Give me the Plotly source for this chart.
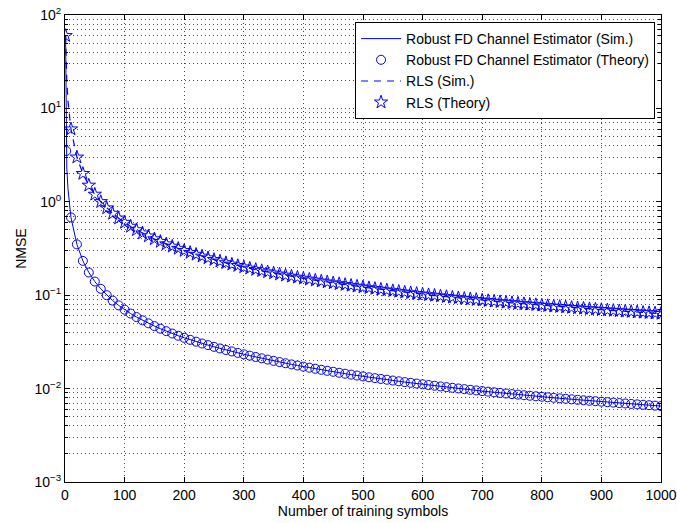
import plotly.graph_objects as go

# ---------------- data ----------------
theory_n = [10 * k for k in range(1, 101)]

robust_theory = [
    0.68, 0.35, 0.233, 0.175, 0.14, 0.117, 0.100, 0.0875, 0.0778, 0.070,
    0.0636, 0.0583, 0.0538, 0.050, 0.0467, 0.0438, 0.0412, 0.0389, 0.0368, 0.035,
    0.0333, 0.0318, 0.0304, 0.0292, 0.028, 0.0269, 0.0259, 0.025, 0.0241, 0.0233,
    0.02254, 0.0218, 0.0211, 0.02044, 0.01982, 0.01924, 0.01868, 0.01816, 0.01766, 0.01719,
    0.01674, 0.01631, 0.0159, 0.01551, 0.01514, 0.01478, 0.01444, 0.01411, 0.0138, 0.0135,
    0.01322, 0.01295, 0.01269, 0.01244, 0.0122, 0.01197, 0.01174, 0.01153, 0.01132, 0.01112,
    0.01092, 0.01073, 0.01055, 0.01037, 0.0102, 0.01003, 0.00987, 0.00971, 0.00956, 0.00941,
    0.00927, 0.00913, 0.00899, 0.00886, 0.00873, 0.00862, 0.0085, 0.00839, 0.00828, 0.00818,
    0.00807, 0.00797, 0.00787, 0.00778, 0.00768, 0.00759, 0.0075, 0.00741, 0.00733, 0.00724,
    0.00716, 0.00708, 0.007, 0.00693, 0.00685, 0.00678, 0.00671, 0.00664, 0.00657, 0.0065,
]

rls_theory = [
    6.0, 3.0, 2.0, 1.5, 1.2, 1.0, 0.857, 0.75, 0.667, 0.6,
    0.545, 0.5, 0.462, 0.429, 0.4, 0.375, 0.353, 0.333, 0.316, 0.3,
    0.286, 0.273, 0.261, 0.25, 0.24, 0.231, 0.222, 0.214, 0.207, 0.2,
    0.1937, 0.1878, 0.1823, 0.1771, 0.1721, 0.1675, 0.1631, 0.1589, 0.155, 0.1513,
    0.1477, 0.1443, 0.141, 0.138, 0.135, 0.1322, 0.1295, 0.1269, 0.1244, 0.122,
    0.1197, 0.1175, 0.1153, 0.1133, 0.1113, 0.1094, 0.1075, 0.1057, 0.104, 0.1023,
    0.1007, 0.0992, 0.0977, 0.0962, 0.0948, 0.0934, 0.0921, 0.0908, 0.0895, 0.0883,
    0.0871, 0.0859, 0.0848, 0.0837, 0.0827, 0.0817, 0.0807, 0.0797, 0.0788, 0.0779,
    0.077, 0.0761, 0.0753, 0.0745, 0.0736, 0.0729, 0.0721, 0.0713, 0.0706, 0.0699,
    0.0692, 0.0685, 0.0678, 0.0672, 0.0665, 0.0659, 0.0653, 0.0647, 0.0641, 0.0635,
]

# first theory markers (near N = 1)
robust_theory_first_n = [2]
robust_theory_first = [3.5]
rls_theory_first_n = [1]
rls_theory_first = [60.0]

# simulated curves: early symbols, then the same grid as the theory
sim_early_n = [1, 2, 3, 5, 7]
robust_sim_early = [60.0, 3.4, 2.3, 1.38, 0.98]
rls_sim_early = [60.0, 30.0, 20.0, 12.0, 8.6]

robust_sim = robust_sim_early + robust_theory
rls_sim = rls_sim_early + rls_theory
sim_n = sim_early_n + theory_n

ytick_vals = [1e-3, 1e-2, 1e-1, 1e0, 1e1, 1e2]
ytick_text = ["10<sup>\u22123</sup>", "10<sup>\u22122</sup>", "10<sup>\u22121</sup>",
              "10<sup>0</sup>", "10<sup>1</sup>", "10<sup>2</sup>"]
yminor_vals = [m * 10.0 ** e for e in range(-3, 2) for m in range(2, 10)]

BLUE = "#0000FF"
FONT = "Liberation Sans, Arial, Helvetica, sans-serif"
GRID = "rgba(0,0,0,0.7)"

fig = go.Figure()
fig.add_trace(go.Scatter(
    x=sim_n, y=robust_sim, mode="lines", name="Robust FD Channel Estimator (Sim.)",
    line=dict(color=BLUE, width=1)))
fig.add_trace(go.Scatter(
    x=robust_theory_first_n + theory_n, y=robust_theory_first + robust_theory,
    mode="markers", name="Robust FD Channel Estimator (Theory)",
    marker=dict(symbol="circle-open", size=9, color=BLUE, line=dict(width=1, color=BLUE))))
fig.add_trace(go.Scatter(
    x=sim_n, y=rls_sim, mode="lines", name="RLS (Sim.)",
    line=dict(color=BLUE, width=1.2, dash="7px,6px")))
fig.add_trace(go.Scatter(
    x=rls_theory_first_n + theory_n, y=rls_theory_first + rls_theory,
    mode="markers", name="RLS (Theory)",
    marker=dict(symbol="star-open", size=10, color=BLUE, line=dict(width=1, color=BLUE))))

fig.update_layout(
    width=677, height=523,
    margin=dict(l=65, r=16, t=15, b=41, autoexpand=False),
    paper_bgcolor="white", plot_bgcolor="white",
    font=dict(family=FONT, size=14, color="black"),
    showlegend=True,
    legend=dict(
        x=0.99, y=0.985, xanchor="right", yanchor="top",
        bgcolor="white", bordercolor="black", borderwidth=1,
        font=dict(family=FONT, size=14, color="black"),
        traceorder="normal", tracegroupgap=0,
        itemwidth=40,
    ),
    xaxis=dict(
        range=[0, 1000], tickmode="linear", tick0=0, dtick=100,
        automargin=False,
        showline=True, linecolor="black", linewidth=1, mirror="allticks",
        ticks="inside", ticklen=5, tickcolor="black",
        showgrid=True, gridcolor=GRID, griddash="1px,3px", gridwidth=1,
        zeroline=False,
        title=dict(text="Number of training symbols", standoff=2,
                   font=dict(family=FONT, size=14)),
        tickfont=dict(family=FONT, size=14),
    ),
    yaxis=dict(
        type="log", range=[-3, 2],
        automargin=False,
        tickmode="array", tickvals=ytick_vals, ticktext=ytick_text,
        showline=True, linecolor="black", linewidth=1, mirror="allticks",
        ticks="inside", ticklen=5, tickcolor="black",
        showgrid=True, gridcolor=GRID, griddash="1px,3px", gridwidth=1,
        zeroline=False,
        minor=dict(tickmode="array", tickvals=yminor_vals, ticks="inside",
                   ticklen=3, tickcolor="black", showgrid=True,
                   gridcolor=GRID, griddash="1px,3px", gridwidth=1),
        title=dict(text="NMSE", standoff=4, font=dict(family=FONT, size=14)),
        tickfont=dict(family=FONT, size=14),
    ),
)

fig.write_html("out.html", config={"displayModeBar": False})
